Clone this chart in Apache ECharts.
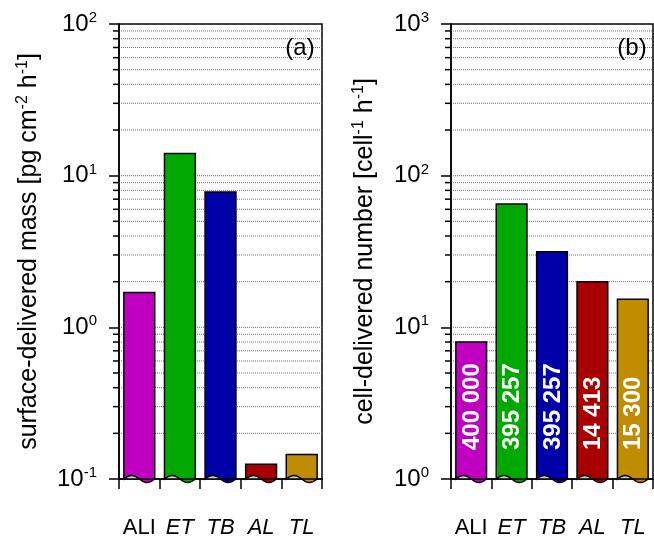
<!DOCTYPE html>
<html>
<head>
<meta charset="utf-8">
<script src="https://cdn.jsdelivr.net/npm/echarts@6/dist/echarts.min.js"></script>
<style>
html,body{margin:0;padding:0;background:#fff;}
#chart{width:654px;height:539px;}
</style>
</head>
<body>
<div id="chart"></div>
<script>
// ---- data ----
const categories = ['ALI', 'ET', 'TB', 'AL', 'TL'];
const categoryItalic = [false, true, true, true, true];
const massValues = [1.7, 14, 7.8, 0.125, 0.145];      // pg cm-2 h-1
const numberValues = [8, 65, 31.5, 20, 15.3];        // cell-1 h-1
const cellLabels = ['400 000', '395 257', '395 257', '14 413', '15 300'];
const barColors = ['#C000C0', '#00A800', '#0000A8', '#A80000', '#C08C00'];
const massRange = [0.1, 100];
const numberRange = [1, 1000];
const panelLabels = ['(a)', '(b)'];

const FONT = 'Liberation Sans, Arial, sans-serif';

function gridValues(range) {
  const out = [];
  const e0 = Math.round(Math.log10(range[0])), e1 = Math.round(Math.log10(range[1]));
  for (let e = e0; e < e1; e++) {
    for (let k = 1; k <= 9; k++) {
      if (e === e0 && k === 1) continue;
      out.push([0, k * Math.pow(10, e), k === 1 ? 0 : 1]);
    }
  }
  return out;
}

function gridRender(params, api) {
  const cs = params.coordSys;
  const y = api.coord([0, api.value(1)])[1];
  const minor = api.value(2);
  const children = [{
    type: 'line',
    shape: {x1: cs.x, y1: y, x2: cs.x + cs.width, y2: y},
    style: {stroke: '#6e6e6e', lineWidth: 1, lineDash: [1, 1]}
  }];
  if (minor) {
    children.push({
      type: 'line',
      shape: {x1: cs.x - 6, y1: y, x2: cs.x, y2: y},
      style: {stroke: '#000', lineWidth: 1.5}
    });
  }
  return {type: 'group', children: children};
}

function makeBarRender(labels) {
  return function (params, api) {
    const cs = params.coordSys;
    const ci = api.value(0), v = api.value(1);
    const top = api.coord([ci, v]);
    const bw = api.size([1, 0])[0] * 0.76;
    const yB = cs.y + cs.height;
    const x0 = top[0] - bw / 2, x1 = top[0] + bw / 2;
    const A = 3.5, N = 30;
    const wave = [];
    for (let i = N; i >= 0; i--) {
      const t = i / N;
      wave.push([x0 + t * bw, yB - A * Math.sin(2 * Math.PI * t)]);
    }
    const barPts = [[x0, top[1]], [x1, top[1]]].concat(wave);
    const crest = [];
    for (let i = 0; i <= N / 2; i++) {
      const t = i / N;
      crest.push([x0 + t * bw, yB - A * Math.sin(2 * Math.PI * t)]);
    }
    const color = barColors[params.dataIndex];
    const children = [
      {type: 'polygon', shape: {points: crest}, style: {fill: '#cfcfcf', stroke: null}},
      {type: 'polygon', shape: {points: barPts}, style: {fill: color, stroke: '#000', lineWidth: 1.5}}
    ];
    if (labels) {
      children.push({
        type: 'text',
        x: top[0] + 1,
        y: yB - 29,
        rotation: Math.PI / 2,
        style: {
          text: labels[params.dataIndex],
          fill: '#fff',
          font: 'bold 24px ' + FONT,
          align: 'left',
          verticalAlign: 'middle'
        }
      });
    }
    return {type: 'group', children: children};
  };
}

function xAxisDef(gridIndex) {
  return {
    type: 'category',
    gridIndex: gridIndex,
    data: categories,
    z: 10,
    axisLine: {lineStyle: {color: '#000', width: 1.5}},
    axisTick: {show: true, alignWithLabel: false, interval: 0, length: 10, lineStyle: {color: '#000', width: 1.5}},
    axisLabel: {
      interval: 0,
      margin: 38,
      formatter: function (val, idx) {
        return (categoryItalic[idx] ? '{i|' : '{n|') + val + '}';
      },
      rich: {
        n: {fontFamily: FONT, fontSize: 22, color: '#000'},
        i: {fontFamily: FONT, fontSize: 22, fontStyle: 'italic', color: '#000'}
      }
    },
    splitLine: {show: false}
  };
}

function yAxisDef(gridIndex, range, nameRich, gap) {
  return {
    type: 'log',
    logBase: 10,
    gridIndex: gridIndex,
    min: range[0],
    max: range[1],
    splitNumber: 3,
    z: 10,
    name: nameRich,
    nameLocation: 'middle',
    nameRotate: 90,
    nameGap: gap,
    nameTextStyle: {
      fontFamily: FONT, fontSize: 25, color: '#000', lineHeight: 28,
      rich: {s: {fontFamily: FONT, fontSize: 16, color: '#000', verticalAlign: 'top', lineHeight: 16}}
    },
    axisLine: {show: true, lineStyle: {color: '#000', width: 1.5}},
    axisTick: {show: true, length: 10, lineStyle: {color: '#000', width: 1.5}},
    axisLabel: {
      margin: 22,
      formatter: function (v) {
        return '{b|10}{s|' + Math.round(Math.log10(v)) + '}';
      },
      rich: {
        b: {fontFamily: FONT, fontSize: 24, color: '#000', lineHeight: 27},
        s: {fontFamily: FONT, fontSize: 15, color: '#000', verticalAlign: 'top', lineHeight: 15}
      }
    },
    splitLine: {show: false}
  };
}

const chart = echarts.init(document.getElementById('chart'), null, {renderer: 'canvas'});
chart.setOption({
  animation: false,
  backgroundColor: '#fff',
  grid: [
    {left: 119, top: 24, width: 203, height: 457, show: true, borderColor: '#000', borderWidth: 1.5, backgroundColor: 'transparent'},
    {left: 451, top: 24, width: 202, height: 457, show: true, borderColor: '#000', borderWidth: 1.5, backgroundColor: 'transparent'}
  ],
  xAxis: [xAxisDef(0), xAxisDef(1)],
  yAxis: [
    yAxisDef(0, massRange, 'surface-delivered mass [pg cm{s|-2} h{s|-1}]', 76),
    yAxisDef(1, numberRange, 'cell-delivered number [cell{s|-1} h{s|-1}]', 72)
  ],
  graphic: [
    {type: 'text', x: 300, y: 48, style: {text: panelLabels[0], font: '24px ' + FONT, fill: '#000', align: 'center', verticalAlign: 'middle'}, z: 20},
    {type: 'text', x: 632, y: 48, style: {text: panelLabels[1], font: '24px ' + FONT, fill: '#000', align: 'center', verticalAlign: 'middle'}, z: 20}
  ],
  series: [
    {type: 'custom', xAxisIndex: 0, yAxisIndex: 0, z: 1, clip: false, silent: true, data: gridValues(massRange), renderItem: gridRender},
    {type: 'custom', xAxisIndex: 1, yAxisIndex: 1, z: 1, clip: false, silent: true, data: gridValues(numberRange), renderItem: gridRender},
    {type: 'custom', xAxisIndex: 0, yAxisIndex: 0, z: 3, clip: false, data: massValues.map((v, i) => [i, v]), renderItem: makeBarRender(null)},
    {type: 'custom', xAxisIndex: 1, yAxisIndex: 1, z: 3, clip: false, data: numberValues.map((v, i) => [i, v]), renderItem: makeBarRender(cellLabels)}
  ]
});
</script>
</body>
</html>
